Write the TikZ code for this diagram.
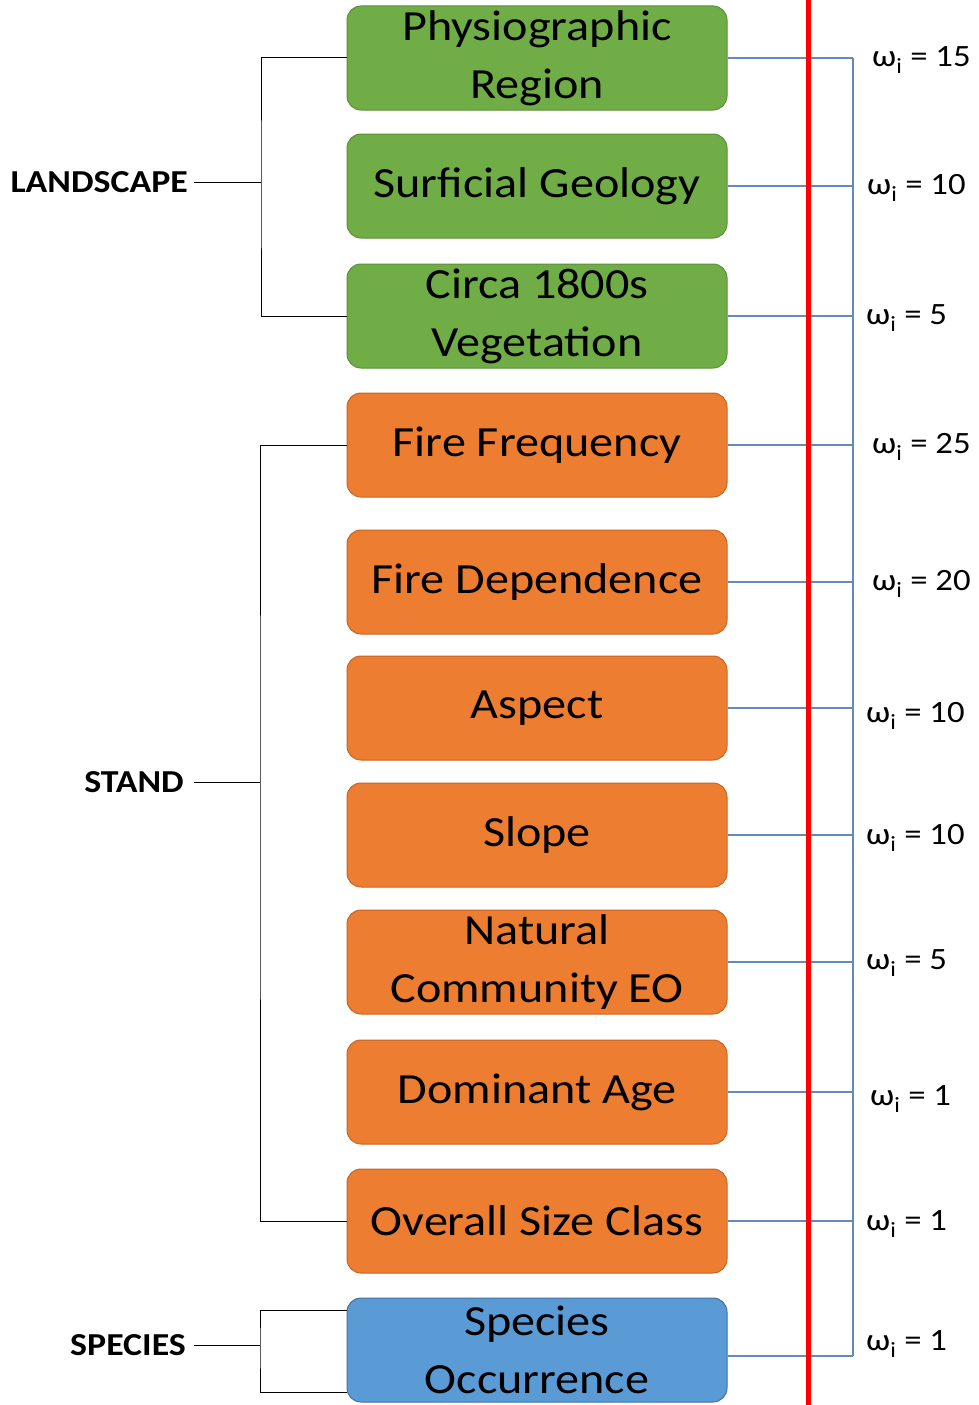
\documentclass[tikz,border=0pt]{standalone}
\usepackage{fontspec}
\setmainfont{Carlito}[FakeStretch=1.12]
\definecolor{gfill}{RGB}{112,173,71}
\definecolor{gdraw}{RGB}{90,145,55}
\definecolor{ofill}{RGB}{237,125,49}
\definecolor{odraw}{RGB}{200,100,35}
\definecolor{bfill}{RGB}{91,155,213}
\definecolor{bdraw}{RGB}{65,113,156}
\definecolor{wline}{RGB}{100,138,188}
\tikzset{
  factor/.style={rectangle, rounded corners=14pt, minimum width=380pt, minimum height=104pt,
    align=center, inner sep=0pt, line width=1pt,
    font=\fontsize{43}{58}\selectfont},
  gbox/.style={factor, fill=gfill, draw=gdraw},
  obox/.style={factor, fill=ofill, draw=odraw},
  bbox/.style={factor, fill=bfill, draw=bdraw},
  grp/.style={font=\bfseries\fontsize{32}{36}\selectfont, anchor=east, inner sep=0pt},
  wlab/.style={font=\fontsize{31}{34}\selectfont, anchor=west, inner sep=0pt},
  bracket/.style={draw=black, line width=1pt},
  wconn/.style={draw=wline, line width=1.1pt},
}
\newcommand{\wt}[1]{ω\textsubscript{i} = #1}
\begin{document}
\begin{tikzpicture}[x=1pt,y=-1pt]
\useasboundingbox (0,0) rectangle (978,1405);
\node[gbox] (b1) at (537,58) {Physiographic\\Region};
\node[gbox] (b2) at (537,186) {Surficial Geology};
\node[gbox] (b3) at (537,316) {Circa 1800s\\Vegetation};
\node[obox] (b4) at (537,445) {Fire Frequency};
\node[obox] (b5) at (537,582) {Fire Dependence};
\node[obox] (b6) at (537,708) {Aspect};
\node[obox] (b7) at (537,835) {Slope};
\node[obox] (b8) at (537,962) {Natural\\Community EO};
\node[obox] (b9) at (537,1092) {Dominant Age};
\node[obox] (b10) at (537,1221) {Overall Size Class};
\node[bbox] (b11) at (537,1350) {Species\\Occurrence};

\node[grp] (land) at (188,182) {LANDSCAPE};
\node[grp] (stand) at (184,782) {STAND};
\node[grp] (spec) at (186,1345) {SPECIES};

\coordinate (lx) at (261,182);
\coordinate (sx) at (260,782);
\coordinate (px) at (260,1345);
\draw[bracket] ([xshift=6pt]land.east) -- (lx);
\draw[bracket] (b1.west) -| (lx) |- (b3.west);
\draw[bracket] ([xshift=10pt]stand.east) -- (sx);
\draw[bracket] (b4.west) -| (sx) |- (b10.west);
\draw[bracket] ([xshift=8pt]spec.east) -- (px);
\draw[bracket] ([yshift=-42pt]b11.west) -| (px) |- ([yshift=40pt]b11.west);

\coordinate (rx) at (853,0);
\foreach \i in {1,...,10} { \draw[wconn] (b\i.east) -- (b\i.east -| rx); }
\draw[wconn] ([yshift=-6pt]b11.east) -- ([yshift=-6pt]b11.east -| rx);
\draw[wconn] (b1.east -| rx) -- ([yshift=-6pt]b11.east -| rx);

\node[wlab] (w1) at (872,60) {\wt{15}};
\node[wlab] (w2) at (867,188) {\wt{10}};
\node[wlab] (w3) at (866,318) {\wt{5}};
\node[wlab] (w4) at (872,447) {\wt{25}};
\node[wlab] (w5) at (872,584) {\wt{20}};
\node[wlab] (w6) at (866,716) {\wt{10}};
\node[wlab] (w7) at (866,838) {\wt{10}};
\node[wlab] (w8) at (866,963) {\wt{5}};
\node[wlab] (w9) at (870,1099) {\wt{1}};
\node[wlab] (w10) at (866,1224) {\wt{1}};
\node[wlab] (w11) at (866,1344) {\wt{1}};

\coordinate (redtop) at (808,0);
\coordinate (redbot) at (808,1405);
\draw[red, line width=5pt] (redtop) -- (redbot);
\end{tikzpicture}
\end{document}
